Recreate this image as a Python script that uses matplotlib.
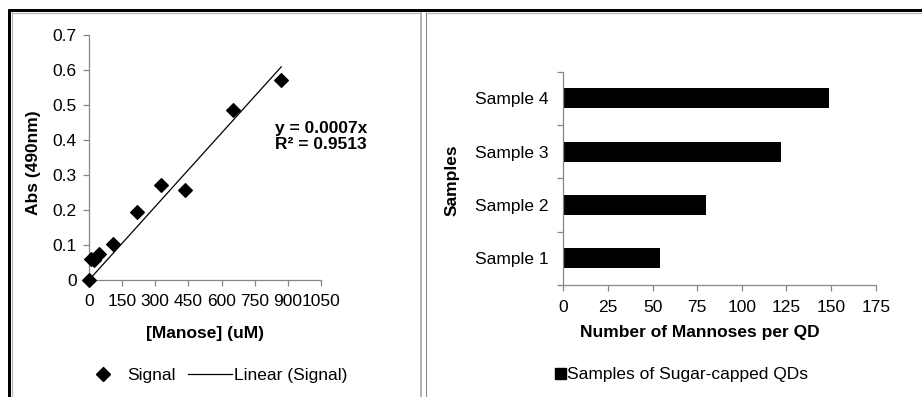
import matplotlib
matplotlib.use("Agg")
import matplotlib.pyplot as plt
from matplotlib.lines import Line2D
from matplotlib.patches import Patch
import numpy as np

plt.rcParams['font.family'] = ['Liberation Sans', 'DejaVu Sans']
FS = 12.5
plt.rcParams['font.size'] = FS

# Calibration data: mannose concentration vs absorbance
manose_um = [0, 7, 22, 44, 107, 217, 326, 434, 653, 870]
absorbance = [0.0, 0.060, 0.058, 0.075, 0.103, 0.195, 0.271, 0.257, 0.485, 0.572]
slope = 0.0007
r_squared = 0.9513
x_ticks_left = [0, 150, 300, 450, 600, 750, 900, 1050]
y_ticks_left = [0, 0.1, 0.2, 0.3, 0.4, 0.5, 0.6, 0.7]

# Mannoses per quantum dot
samples = ["Sample 1", "Sample 2", "Sample 3", "Sample 4"]
mannoses_per_qd = [54, 80, 122, 149]
x_ticks_right = [0, 25, 50, 75, 100, 125, 150, 175]

W, H = 922, 397
fig = plt.figure(figsize=(W / 100, H / 100), dpi=100)

AX_GRAY = '#868686'


def px_axes(left, top, right, bottom):
    return fig.add_axes([left / W, 1 - bottom / H, (right - left) / W, (bottom - top) / H])


def style_axes(ax):
    for s in ['top', 'right']:
        ax.spines[s].set_visible(False)
    for s in ['left', 'bottom']:
        ax.spines[s].set_color(AX_GRAY)
        ax.spines[s].set_linewidth(0.9)
    ax.tick_params(which='both', direction='out', color=AX_GRAY, length=4, width=0.9,
                   labelsize=FS, labelcolor='black')


# ---- Left panel: calibration curve ----
axL = px_axes(89, 35, 321, 280)
style_axes(axL)
axL.scatter(manose_um, absorbance, marker='D', s=48, color='black', zorder=3, clip_on=False)
fit_x = np.array([0, max(manose_um)])
axL.plot(fit_x, slope * fit_x, color='black', lw=0.9, zorder=2)
axL.set_xlim(0, 1050)
axL.set_ylim(0, 0.7)
axL.set_xticks(x_ticks_left)
axL.set_yticks(y_ticks_left)
axL.set_yticklabels(['0' if v == 0 else f'{v:.1f}' for v in y_ticks_left])
axL.tick_params(axis='x', pad=6)
axL.tick_params(axis='y', pad=5)
axL.set_xlabel('[Manose] (uM)', fontweight='bold', fontsize=FS)
axL.set_ylabel('Abs (490nm)', fontweight='bold', fontsize=FS)
axL.xaxis.set_label_coords(0.5, -0.188)
axL.yaxis.set_label_coords(-0.207, 0.478)
axL.text(842, 0.41, f'y = {slope:.4f}x\nR² = {r_squared:.4f}', fontweight='bold',
         fontsize=FS, ha='left', va='center', linespacing=1.05)

handles_left = [
    Line2D([], [], marker='D', ls='none', color='black', markersize=6.8),
    Line2D([], [], color='black', lw=0.9),
]
fig.legend(handles_left, ['Signal', 'Linear (Signal)'], loc='center',
           bbox_to_anchor=(214 / W, 1 - 375 / H), ncol=2, frameon=False,
           fontsize=FS, handlelength=2.55, columnspacing=0.7, handletextpad=0.1)

# ---- Right panel: horizontal bars ----
axR = px_axes(563.3, 71.7, 875.7, 285)
style_axes(axR)
ypos = np.arange(len(samples))
axR.barh(ypos, mannoses_per_qd, height=0.38, color='black')
axR.set_xlim(0, 175)
axR.set_ylim(-0.5, len(samples) - 0.5)
axR.set_xticks(x_ticks_right)
axR.set_yticks(ypos)
axR.set_yticklabels(samples)
axR.set_yticks(np.arange(-0.5, len(samples)), minor=True)
axR.tick_params(axis='y', which='major', length=0, pad=10.5)
axR.tick_params(axis='y', which='minor', length=4)
axR.tick_params(axis='x', pad=7)
axR.set_xlabel('Number of Mannoses per QD', fontweight='bold', fontsize=FS)
axR.set_ylabel('Samples', fontweight='bold', fontsize=FS)
axR.xaxis.set_label_coords(0.4376, -0.1875)
axR.yaxis.set_label_coords(-0.331, 0.492)

fig.legend([Patch(facecolor='black', edgecolor='black')], ['Samples of Sugar-capped QDs'],
           loc='center', bbox_to_anchor=(681.5 / W, 1 - 375 / H), frameon=False,
           fontsize=FS, handlelength=0.63, handleheight=0.63, handletextpad=0.1)

# ---- Panel frames ----
def fig_line(xs, ys, color, lw_px):
    fig.add_artist(Line2D([x / W for x in xs], [1 - y / H for y in ys],
                          transform=fig.transFigure, color=color,
                          lw=lw_px * 0.72, solid_capstyle='butt'))


fig_line([11, 421], [12.5, 12.5], '#b4b4b4', 1.2)
fig_line([426, W], [12.5, 12.5], '#b4b4b4', 1.2)
fig_line([11.5, 11.5], [12, H], '#b4b4b4', 1.2)
fig_line([421, 421], [12, H], '#b4b4b4', 2)
fig_line([425.5, 425.5], [12, H], '#808080', 1)
fig_line([7.5, W], [10, 10], 'black', 3)
fig_line([9, 9], [8.5, H], 'black', 3)

fig.savefig('out.png', dpi=100)
